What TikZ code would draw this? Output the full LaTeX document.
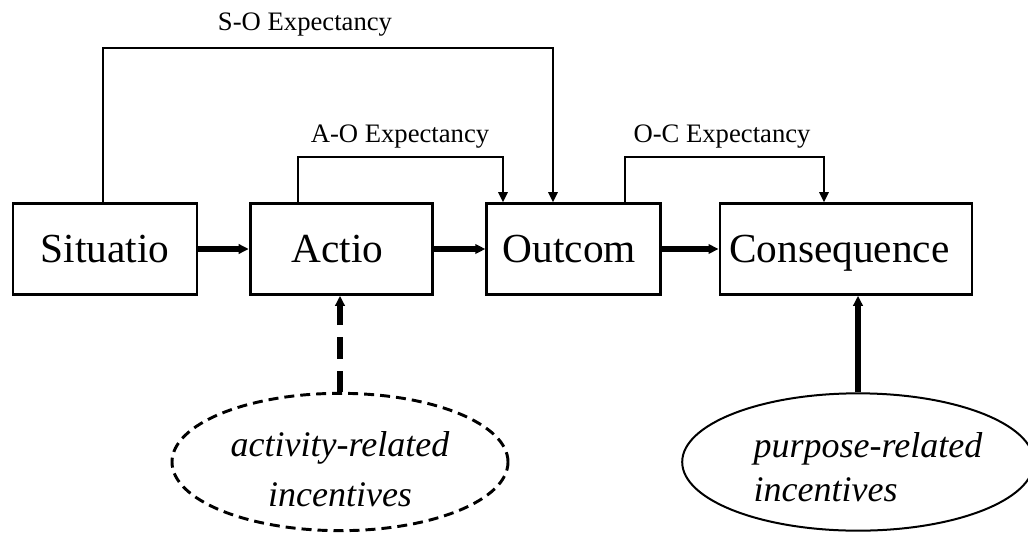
\documentclass[tikz,border=0pt]{standalone}
\usepackage{fontspec}
\setmainfont{Liberation Serif}
\usetikzlibrary{arrows.meta,shapes.geometric}
\begin{document}
\begin{tikzpicture}[x=0.75pt,y=-0.75pt,
  box/.style={draw,line width=2.2pt,minimum height=68pt,inner sep=0pt,text depth=0pt,font=\fontsize{31}{36}\selectfont},
  lbl/.style={font=\fontsize{20}{24}\selectfont,inner sep=0pt},
  tip/.style={-{Triangle[length=7.5pt,width=7pt]}},
  thin/.style={line width=1.5pt,tip},
  thickarr/.style={line width=3.8pt,tip},
  dasharr/.style={line width=4.5pt,dash pattern=on 16pt off 9pt,tip},
  inc/.style={ellipse,minimum width=252pt,minimum height=103pt,inner sep=0pt,font=\fontsize{27}{36}\selectfont\itshape}
]
\useasboundingbox (0,0) rectangle (1028,532);
\node[box,minimum width=138pt] (sit) at (105,249) {Situatio};
\node[box,minimum width=137pt] (act) at (341.5,249) {Actio\hspace*{6pt}};
\node[box,minimum width=130pt] (out) at (573.5,249) {Outcom\hspace*{6pt}};
\node[box,minimum width=189pt] (con) at (846,249) {Consequence\hspace*{10pt}};
\node[lbl] (so) at (305,25) {S-O Expectancy};
\node[lbl] (ao) at (400,137) {A-O Expectancy};
\node[lbl] (oc) at (722,137) {O-C Expectancy};
\node[inc,draw,dashed,dash pattern=on 7.5pt off 4.5pt,line width=2.2pt,align=center,font=\fontsize{27}{37.5}\selectfont\itshape] (ainc) at (340,462) {\rule{0pt}{29pt}activity-related\\incentives};
\node[inc,draw,line width=1.5pt,align=left,font=\fontsize{27}{33}\selectfont\itshape,minimum width=254pt] (pinc) at (858,462) {\rule{0pt}{26pt}\hspace*{15pt}purpose-related\\\hspace*{15pt}incentives};
\draw[thickarr] (sit.east) -- (act.west);
\draw[thickarr] (act.east) -- (out.west);
\draw[thickarr] (out.east) -- (con.west);
\draw[thin] ([xshift=-1.5pt]sit.north) -- ++(0,-154) -| ([xshift={-20.5*0.75pt}]out.north);
\draw[thin] ([xshift={-43.5*0.75pt}]act.north) -- ++(0,-45) -| ([xshift={-70.5*0.75pt}]out.north);
\draw[thin] ([xshift={51.5*0.75pt}]out.north) -- ++(0,-45) -| ([xshift={-22*0.75pt}]con.north);
\draw[dasharr] (ainc.north) -- (ainc.north |- act.south);
\draw[thickarr] (pinc.north) -- (pinc.north |- con.south);
\end{tikzpicture}
\end{document}
